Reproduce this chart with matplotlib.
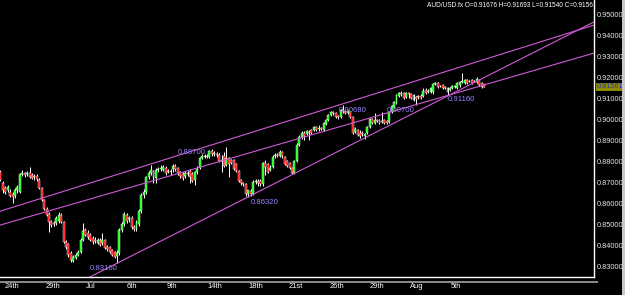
import matplotlib
matplotlib.use("Agg")
from matplotlib import pyplot as plt
from matplotlib.transforms import blended_transform_factory
from matplotlib.lines import Line2D
from matplotlib.patches import Rectangle
import numpy as np

plt.rcParams["font.family"] = ["Liberation Sans", "DejaVu Sans"]

# AUD/USD H4 candles (oldest first)
opens = [
    0.8750, 0.8698, 0.8674, 0.8664, 0.8655, 0.8645, 0.8636, 0.8664, 0.8655, 0.8740,
    0.8745, 0.8740, 0.8745, 0.8736, 0.8726, 0.8731, 0.8712, 0.8674, 0.8617, 0.8574,
    0.8550, 0.8512, 0.8507, 0.8507, 0.8517, 0.8545, 0.8512, 0.8417, 0.8407, 0.8364,
    0.8326, 0.8340, 0.8355, 0.8369, 0.8426, 0.8474, 0.8459, 0.8450, 0.8436, 0.8426,
    0.8412, 0.8426, 0.8412, 0.8426, 0.8393, 0.8393, 0.8379, 0.8369, 0.8350, 0.8364,
    0.8474, 0.8502, 0.8545, 0.8526, 0.8531, 0.8488, 0.8479, 0.8502, 0.8564, 0.8640,
    0.8655, 0.8726, 0.8745, 0.8755, 0.8721, 0.8760, 0.8764, 0.8760, 0.8769, 0.8750,
    0.8755, 0.8764, 0.8779, 0.8769, 0.8750, 0.8740, 0.8731, 0.8745, 0.8755, 0.8740,
    0.8712, 0.8750, 0.8769, 0.8817, 0.8821, 0.8826, 0.8821, 0.8850, 0.8836, 0.8836,
    0.8831, 0.8802, 0.8826, 0.8783, 0.8817, 0.8807, 0.8807, 0.8788, 0.8755, 0.8712,
    0.8698, 0.8693, 0.8645, 0.8660, 0.8645, 0.8702, 0.8707, 0.8707, 0.8693, 0.8793,
    0.8788, 0.8760, 0.8774, 0.8826, 0.8831, 0.8826, 0.8845, 0.8821, 0.8802, 0.8793,
    0.8769, 0.8745, 0.8802, 0.8879, 0.8917, 0.8936, 0.8931, 0.8940, 0.8950, 0.8950,
    0.8964, 0.8955, 0.8960, 0.8950, 0.8979, 0.8998, 0.9021, 0.9036, 0.9031, 0.9017,
    0.9012, 0.9045, 0.9040, 0.9031, 0.9036, 0.9012, 0.8940, 0.8950, 0.8936, 0.8936,
    0.8921, 0.8936, 0.8964, 0.9002, 0.8983, 0.8998, 0.8998, 0.8993, 0.8998, 0.8993,
    0.8988, 0.9036, 0.9060, 0.9079, 0.9112, 0.9126, 0.9126, 0.9107, 0.9126, 0.9121,
    0.9117, 0.9107, 0.9107, 0.9112, 0.9112, 0.9140, 0.9131, 0.9131, 0.9131, 0.9169,
    0.9174, 0.9159, 0.9164, 0.9155, 0.9150, 0.9140, 0.9150, 0.9155, 0.9150, 0.9164,
    0.9179, 0.9174, 0.9188, 0.9183, 0.9188, 0.9183, 0.9179, 0.9188, 0.9174, 0.91676,
]
highs = [
    0.8760, 0.8707, 0.8683, 0.8688, 0.8669, 0.8655, 0.8674, 0.8688, 0.8745, 0.8760,
    0.8750, 0.8755, 0.8774, 0.8745, 0.8740, 0.8740, 0.8721, 0.8679, 0.8621, 0.8583,
    0.8560, 0.8521, 0.8517, 0.8540, 0.8560, 0.8555, 0.8517, 0.8426, 0.8412, 0.8374,
    0.8355, 0.8364, 0.8379, 0.8436, 0.8507, 0.8483, 0.8474, 0.8459, 0.8445, 0.8440,
    0.8436, 0.8436, 0.8459, 0.8431, 0.8402, 0.8398, 0.8383, 0.8374, 0.8379, 0.8483,
    0.8512, 0.8560, 0.8555, 0.8540, 0.8540, 0.8498, 0.8521, 0.8574, 0.8650, 0.8669,
    0.8731, 0.8755, 0.8783, 0.8760, 0.8769, 0.8774, 0.8783, 0.8783, 0.8779, 0.8764,
    0.8764, 0.8788, 0.8788, 0.8774, 0.8755, 0.8750, 0.8755, 0.8755, 0.8764, 0.8750,
    0.8755, 0.8779, 0.8821, 0.8836, 0.8836, 0.8836, 0.8855, 0.8860, 0.8850, 0.8845,
    0.8840, 0.8831, 0.8845, 0.8869, 0.8821, 0.8812, 0.8812, 0.8793, 0.8760, 0.8717,
    0.8702, 0.8698, 0.8650, 0.8669, 0.8712, 0.8717, 0.8717, 0.8717, 0.8798, 0.8807,
    0.8793, 0.8783, 0.8831, 0.8840, 0.8840, 0.8855, 0.8850, 0.8826, 0.8807, 0.8798,
    0.8774, 0.8807, 0.8888, 0.8926, 0.8945, 0.8945, 0.8950, 0.8950, 0.8955, 0.8969,
    0.8969, 0.8974, 0.8964, 0.8988, 0.9002, 0.9026, 0.9040, 0.9040, 0.9036, 0.9021,
    0.9050, 0.9068, 0.9045, 0.9045, 0.9040, 0.9017, 0.8964, 0.8955, 0.8950, 0.8945,
    0.8936, 0.8969, 0.9007, 0.9007, 0.9031, 0.9002, 0.9002, 0.9036, 0.9002, 0.8998,
    0.9040, 0.9069, 0.9088, 0.9121, 0.9131, 0.9136, 0.9131, 0.9131, 0.9131, 0.9126,
    0.9121, 0.9112, 0.9117, 0.9121, 0.9150, 0.9150, 0.9145, 0.9155, 0.9174, 0.9179,
    0.9179, 0.9164, 0.9169, 0.9159, 0.9155, 0.9155, 0.9164, 0.9164, 0.9179, 0.9183,
    0.9221, 0.9193, 0.9193, 0.9188, 0.9193, 0.9188, 0.9202, 0.9193, 0.9179, 0.91693,
]
lows = [
    0.8707, 0.8650, 0.8645, 0.8655, 0.8631, 0.8602, 0.8626, 0.8650, 0.8650, 0.8731,
    0.8726, 0.8731, 0.8721, 0.8717, 0.8712, 0.8707, 0.8669, 0.8612, 0.8569, 0.8540,
    0.8464, 0.8488, 0.8493, 0.8498, 0.8507, 0.8507, 0.8412, 0.8383, 0.8345, 0.8324,
    0.8320, 0.8336, 0.8350, 0.8364, 0.8421, 0.8445, 0.8431, 0.8421, 0.8407, 0.8412,
    0.8407, 0.8398, 0.8402, 0.8383, 0.8374, 0.8364, 0.8350, 0.8340, 0.8316, 0.8355,
    0.8464, 0.8493, 0.8507, 0.8512, 0.8479, 0.8469, 0.8469, 0.8493, 0.8555, 0.8626,
    0.8645, 0.8717, 0.8736, 0.8698, 0.8698, 0.8750, 0.8755, 0.8755, 0.8736, 0.8745,
    0.8736, 0.8750, 0.8755, 0.8736, 0.8721, 0.8712, 0.8721, 0.8731, 0.8698, 0.8702,
    0.8688, 0.8740, 0.8764, 0.8812, 0.8817, 0.8817, 0.8817, 0.8826, 0.8826, 0.8821,
    0.8798, 0.8750, 0.8774, 0.8779, 0.8726, 0.8788, 0.8760, 0.8750, 0.8702, 0.8688,
    0.8683, 0.8636, 0.8632, 0.8636, 0.8640, 0.8693, 0.8683, 0.8683, 0.8683, 0.8736,
    0.8745, 0.8755, 0.8769, 0.8817, 0.8821, 0.8821, 0.8817, 0.8783, 0.8774, 0.8764,
    0.8740, 0.8740, 0.8798, 0.8874, 0.8907, 0.8902, 0.8926, 0.8902, 0.8931, 0.8945,
    0.8945, 0.8945, 0.8950, 0.8945, 0.8974, 0.8993, 0.9017, 0.9021, 0.9007, 0.9002,
    0.9007, 0.9031, 0.9026, 0.9026, 0.9007, 0.8931, 0.8936, 0.8921, 0.8912, 0.8921,
    0.8907, 0.8931, 0.8960, 0.8979, 0.8979, 0.8988, 0.8979, 0.8983, 0.8979, 0.8979,
    0.8983, 0.9031, 0.9055, 0.9074, 0.9107, 0.9112, 0.9098, 0.9102, 0.9102, 0.9098,
    0.9088, 0.9069, 0.9098, 0.9098, 0.9107, 0.9121, 0.9126, 0.9126, 0.9121, 0.9164,
    0.9150, 0.9155, 0.9145, 0.9145, 0.9116, 0.9136, 0.9145, 0.9150, 0.9145, 0.9155,
    0.9174, 0.9169, 0.9169, 0.9179, 0.9169, 0.9179, 0.9174, 0.9159, 0.9150, 0.91540,
]
closes = [
    0.8712, 0.8664, 0.8655, 0.8679, 0.8636, 0.8631, 0.8664, 0.8679, 0.8740, 0.8745,
    0.8736, 0.8745, 0.8726, 0.8721, 0.8731, 0.8717, 0.8674, 0.8617, 0.8574, 0.8545,
    0.8512, 0.8498, 0.8502, 0.8531, 0.8545, 0.8512, 0.8417, 0.8393, 0.8355, 0.8331,
    0.8345, 0.8355, 0.8369, 0.8426, 0.8469, 0.8450, 0.8440, 0.8426, 0.8417, 0.8424,
    0.8426, 0.8402, 0.8426, 0.8388, 0.8383, 0.8369, 0.8355, 0.8345, 0.8364, 0.8474,
    0.8502, 0.8550, 0.8517, 0.8531, 0.8488, 0.8479, 0.8512, 0.8564, 0.8640, 0.8655,
    0.8726, 0.8745, 0.8760, 0.8726, 0.8760, 0.8764, 0.8769, 0.8774, 0.8745, 0.8755,
    0.8750, 0.8779, 0.8764, 0.8745, 0.8731, 0.8721, 0.8745, 0.8740, 0.8726, 0.8707,
    0.8750, 0.8764, 0.8817, 0.8826, 0.8826, 0.8821, 0.8850, 0.8836, 0.8840, 0.8831,
    0.8802, 0.8807, 0.8779, 0.8817, 0.8788, 0.8793, 0.8764, 0.8755, 0.8707, 0.8698,
    0.8693, 0.8645, 0.8664, 0.8645, 0.8702, 0.8707, 0.8698, 0.8693, 0.8793, 0.8774,
    0.8750, 0.8769, 0.8821, 0.8831, 0.8826, 0.8845, 0.8826, 0.8788, 0.8779, 0.8769,
    0.8745, 0.8802, 0.8879, 0.8917, 0.8936, 0.8921, 0.8945, 0.8936, 0.8936, 0.8964,
    0.8950, 0.8960, 0.8955, 0.8983, 0.8998, 0.9021, 0.9036, 0.9031, 0.9012, 0.9012,
    0.9045, 0.9040, 0.9031, 0.9040, 0.9012, 0.8936, 0.8955, 0.8926, 0.8921, 0.8931,
    0.8931, 0.8964, 0.9002, 0.8983, 0.8998, 0.8993, 0.8983, 0.8988, 0.8983, 0.8983,
    0.9036, 0.9064, 0.9083, 0.9117, 0.9126, 0.9121, 0.9102, 0.9126, 0.9121, 0.9102,
    0.9093, 0.9098, 0.9112, 0.9102, 0.9136, 0.9126, 0.9136, 0.9150, 0.9169, 0.9174,
    0.9155, 0.9160, 0.9150, 0.9152, 0.9131, 0.9150, 0.9159, 0.9160, 0.9174, 0.9179,
    0.9183, 0.9188, 0.9174, 0.9184, 0.9174, 0.9182, 0.9193, 0.9164, 0.9155, 0.91561,
]

price_ticks = [0.83, 0.84, 0.85, 0.86, 0.87, 0.88, 0.89, 0.90, 0.91, 0.92, 0.93, 0.94, 0.95]
date_labels = ["24th", "29th", "Jul", "6th", "9th", "14th", "18th", "21st", "26th", "29th", "Aug", "5th"]
date_bars = [1.9, 18.6, 35.2, 51.9, 68.6, 85.2, 101.9, 118.6, 135.3, 151.9, 168.6, 185.3]

# trend lines: two anchor points (bar, price) each
trend_lines = [
    ((0, 0.8564), (240, 0.9434)),
    ((0, 0.8498), (240, 0.9302)),
    ((48, 0.8316), (102, 0.8632)),
]
# price notes written on the chart: text, bar, price
notes = [
    ("0.83160", 36.9, 0.8293),
    ("0.86320", 103.1, 0.8607),
    ("0.88700", 73.1, 0.8845),
    ("0.90680", 139.3, 0.9045),
    ("0.90700", 159.1, 0.9045),
    ("0.91160", 184.2, 0.9093),
]
title = "AUD/USD.fx O=0.91676 H=0.91693 L=0.91540 C=0.9156"
last_price = closes[-1]

W, H = 625, 295
fig = plt.figure(figsize=(W / 100, H / 100), dpi=100, facecolor="black")
ax = fig.add_axes([0, 18 / H, 594 / W, 277 / H], facecolor="black")

x = np.arange(len(opens))
o = np.array(opens)
c = np.array(closes)
up = c >= o

ax.vlines(x, lows, highs, color="white", lw=0.7, zorder=2)
body_bot = np.minimum(o, c)
body_h = np.maximum(np.abs(c - o), 0.00004)
ax.bar(x, body_h, bottom=body_bot, width=0.8,
       color=np.where(up, "#00ff00", "#ff0000"),
       edgecolor="white", linewidth=0.3, zorder=3)

for p1, p2 in trend_lines:
    ax.axline(p1, p2, color="#d25ad8", lw=0.8, zorder=4)

for txt, bx, py in notes:
    ax.text(bx, py, txt, color="#9c82ff", fontsize=5.6, ha="left", va="center", zorder=5)

ax.set_xlim(-0.165, 244.28)
ax.set_ylim(0.82504, 0.95690)

ax.spines["top"].set_visible(False)
ax.spines["left"].set_visible(False)
for s in ("right", "bottom"):
    ax.spines[s].set_color("white")
    ax.spines[s].set_linewidth(1.0)

ax.set_xticks([])
ax.yaxis.tick_right()
ax.set_yticks(price_ticks)
ax.set_yticklabels([f"{v:.5f}" for v in price_ticks])
ax.tick_params(axis="y", length=0, pad=2, labelsize=5.3, labelcolor="#e6e6e6")

tr = blended_transform_factory(ax.transData, ax.transAxes)
for lab, bx in zip(date_labels, date_bars):
    ax.text(bx, -10 / 277, lab, transform=tr, color="white", fontsize=5.4,
            ha="left", va="center", clip_on=False)

# gray strip under the chart
fig.add_artist(Line2D([0, 597 / W], [1 - 281.5 / H] * 2, color="#8c8c8c", lw=1.4,
                      transform=fig.transFigure))

# current price marker
ty = blended_transform_factory(ax.transAxes, ax.transData)
ax.text(1.004, last_price, f"{last_price:.5f}", transform=ty, color="#3030d0",
        fontsize=5.3, ha="left", va="center", clip_on=False,
        bbox=dict(facecolor="#8c8c00", edgecolor="none", pad=0.5))

ax.text(0.998, 1 - 5.5 / 277, title, transform=ax.transAxes, color="white",
        fontsize=4.7, ha="right", va="center")

fig.add_artist(Rectangle((622 / W, 0), 3 / W, 1, transform=fig.transFigure,
                         facecolor="#c8c8c8", edgecolor="none"))

fig.savefig("out.png", dpi=100, facecolor="black")
